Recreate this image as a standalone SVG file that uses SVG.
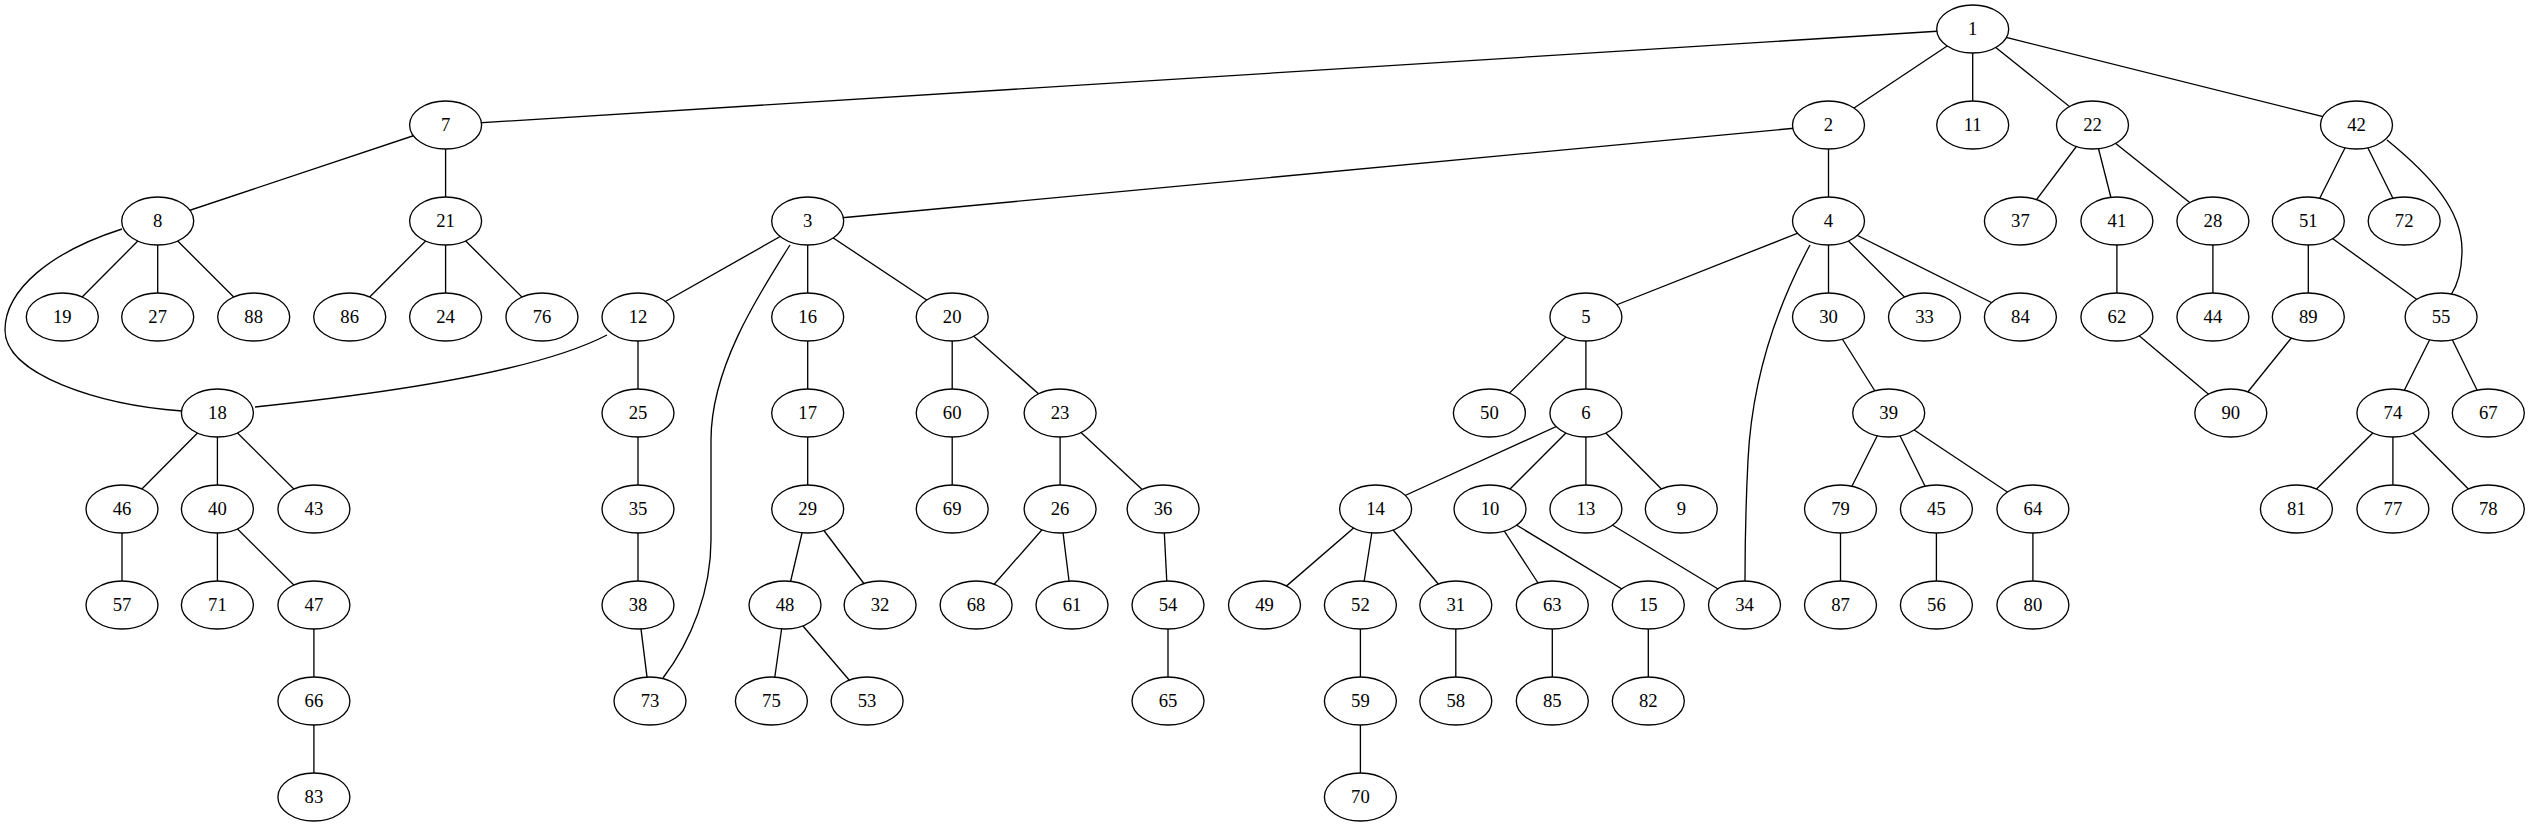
<svg xmlns="http://www.w3.org/2000/svg" width="2530" height="827" viewBox="0 0 2530 827">
<style>
.e line,.e path{stroke:#000;stroke-width:1.33;fill:none}
.n ellipse{fill:#fff;stroke:#000;stroke-width:1.33}
.n text{font-family:"Liberation Serif","Times New Roman",serif;font-size:18.67px;text-anchor:middle;fill:#000}
</style>
<rect width="2530" height="827" fill="#fff"/>
<g id="edges" class="e">
<line x1="1972.7" y1="29" x2="445.6" y2="125"/>
<line x1="1972.7" y1="29" x2="1828.5" y2="125"/>
<line x1="1972.7" y1="29" x2="1972.7" y2="125"/>
<line x1="1972.7" y1="29" x2="2092.5" y2="125"/>
<line x1="1972.7" y1="29" x2="2356.5" y2="125"/>
<line x1="445.6" y1="125" x2="157.7" y2="221"/>
<line x1="445.6" y1="125" x2="445.6" y2="221"/>
<line x1="1828.5" y1="125" x2="807.7" y2="221"/>
<line x1="1828.5" y1="125" x2="1828.5" y2="221"/>
<line x1="2092.5" y1="125" x2="2020.4" y2="221"/>
<line x1="2092.5" y1="125" x2="2116.9" y2="221"/>
<line x1="2092.5" y1="125" x2="2212.9" y2="221"/>
<line x1="2356.5" y1="125" x2="2308.3" y2="221"/>
<line x1="2356.5" y1="125" x2="2404.2" y2="221"/>
<path d="M2387,140 C2430,175 2462,210 2462,250 C2462,270 2458,284 2451,295"/>
<line x1="157.7" y1="221" x2="62.3" y2="317"/>
<line x1="157.7" y1="221" x2="157.7" y2="317"/>
<line x1="157.7" y1="221" x2="253.7" y2="317"/>
<path d="M122,229 C50,252 5,290 5,330 C5,375 100,405 182,411"/>
<line x1="445.6" y1="221" x2="349.7" y2="317"/>
<line x1="445.6" y1="221" x2="445.6" y2="317"/>
<line x1="445.6" y1="221" x2="542" y2="317"/>
<line x1="807.7" y1="221" x2="638" y2="317"/>
<path d="M790,245 C755,300 711,370 711,440 L711,540 C711,590 692,640 663,678"/>
<line x1="807.7" y1="221" x2="807.7" y2="317"/>
<line x1="807.7" y1="221" x2="952.2" y2="317"/>
<line x1="1828.5" y1="221" x2="1585.9" y2="317"/>
<path d="M1810,245 C1775,310 1752,380 1748,460 C1745,520 1745,560 1745,581"/>
<line x1="1828.5" y1="221" x2="1828.5" y2="317"/>
<line x1="1828.5" y1="221" x2="1924.5" y2="317"/>
<line x1="1828.5" y1="221" x2="2020.4" y2="317"/>
<line x1="2116.9" y1="221" x2="2116.9" y2="317"/>
<line x1="2212.9" y1="221" x2="2212.9" y2="317"/>
<line x1="2308.3" y1="221" x2="2308.3" y2="317"/>
<line x1="2308.3" y1="221" x2="2441.1" y2="317"/>
<path d="M607,335 C540,370 400,392 255,407"/>
<line x1="638" y1="317" x2="638" y2="413"/>
<line x1="807.7" y1="317" x2="807.7" y2="413"/>
<line x1="952.2" y1="317" x2="952.2" y2="413"/>
<line x1="952.2" y1="317" x2="1060.1" y2="413"/>
<line x1="1585.9" y1="317" x2="1489.4" y2="413"/>
<line x1="1585.9" y1="317" x2="1585.9" y2="413"/>
<line x1="1828.5" y1="317" x2="1888.7" y2="413"/>
<line x1="2116.9" y1="317" x2="2230.8" y2="413"/>
<line x1="2308.3" y1="317" x2="2230.8" y2="413"/>
<line x1="2441.1" y1="317" x2="2392.9" y2="413"/>
<line x1="2441.1" y1="317" x2="2488.3" y2="413"/>
<line x1="217.4" y1="413" x2="122" y2="509"/>
<line x1="217.4" y1="413" x2="217.4" y2="509"/>
<line x1="217.4" y1="413" x2="313.9" y2="509"/>
<line x1="638" y1="413" x2="638" y2="509"/>
<line x1="807.7" y1="413" x2="807.7" y2="509"/>
<line x1="952.2" y1="413" x2="952.2" y2="509"/>
<line x1="1060.1" y1="413" x2="1060.1" y2="509"/>
<line x1="1060.1" y1="413" x2="1163.1" y2="509"/>
<line x1="1585.9" y1="413" x2="1375.6" y2="509"/>
<line x1="1585.9" y1="413" x2="1490" y2="509"/>
<line x1="1585.9" y1="413" x2="1585.9" y2="509"/>
<line x1="1585.9" y1="413" x2="1681.3" y2="509"/>
<line x1="1888.7" y1="413" x2="1840.5" y2="509"/>
<line x1="1888.7" y1="413" x2="1936.4" y2="509"/>
<line x1="1888.7" y1="413" x2="2032.9" y2="509"/>
<line x1="2392.9" y1="413" x2="2296.4" y2="509"/>
<line x1="2392.9" y1="413" x2="2392.9" y2="509"/>
<line x1="2392.9" y1="413" x2="2488.3" y2="509"/>
<line x1="122" y1="509" x2="122" y2="605"/>
<line x1="217.4" y1="509" x2="217.4" y2="605"/>
<line x1="217.4" y1="509" x2="313.9" y2="605"/>
<line x1="638" y1="509" x2="638" y2="605"/>
<line x1="807.7" y1="509" x2="785" y2="605"/>
<line x1="807.7" y1="509" x2="880.1" y2="605"/>
<line x1="1060.1" y1="509" x2="976.1" y2="605"/>
<line x1="1060.1" y1="509" x2="1072" y2="605"/>
<line x1="1163.1" y1="509" x2="1168" y2="605"/>
<line x1="1375.6" y1="509" x2="1264.5" y2="605"/>
<line x1="1375.6" y1="509" x2="1360.4" y2="605"/>
<line x1="1375.6" y1="509" x2="1455.8" y2="605"/>
<line x1="1490" y1="509" x2="1552.3" y2="605"/>
<line x1="1490" y1="509" x2="1648.3" y2="605"/>
<line x1="1585.9" y1="509" x2="1744.5" y2="605"/>
<line x1="1840.5" y1="509" x2="1840.5" y2="605"/>
<line x1="1936.4" y1="509" x2="1936.4" y2="605"/>
<line x1="2032.9" y1="509" x2="2032.9" y2="605"/>
<line x1="313.9" y1="605" x2="313.9" y2="701"/>
<line x1="638" y1="605" x2="650" y2="701"/>
<line x1="785" y1="605" x2="771.4" y2="701"/>
<line x1="785" y1="605" x2="867.1" y2="701"/>
<line x1="1168" y1="605" x2="1168" y2="701"/>
<line x1="1360.4" y1="605" x2="1360.4" y2="701"/>
<line x1="1455.8" y1="605" x2="1455.8" y2="701"/>
<line x1="1552.3" y1="605" x2="1552.3" y2="701"/>
<line x1="1648.3" y1="605" x2="1648.3" y2="701"/>
<line x1="313.9" y1="701" x2="313.9" y2="797"/>
<line x1="1360.4" y1="701" x2="1360.4" y2="797"/>
</g>
<g id="n1" class="n"><ellipse cx="1972.7" cy="29" rx="36" ry="24"/><text x="1972.7" y="35">1</text></g>
<g id="n7" class="n"><ellipse cx="445.6" cy="125" rx="36" ry="24"/><text x="445.6" y="131">7</text></g>
<g id="n2" class="n"><ellipse cx="1828.5" cy="125" rx="36" ry="24"/><text x="1828.5" y="131">2</text></g>
<g id="n11" class="n"><ellipse cx="1972.7" cy="125" rx="36" ry="24"/><text x="1972.7" y="131">11</text></g>
<g id="n22" class="n"><ellipse cx="2092.5" cy="125" rx="36" ry="24"/><text x="2092.5" y="131">22</text></g>
<g id="n42" class="n"><ellipse cx="2356.5" cy="125" rx="36" ry="24"/><text x="2356.5" y="131">42</text></g>
<g id="n8" class="n"><ellipse cx="157.7" cy="221" rx="36" ry="24"/><text x="157.7" y="227">8</text></g>
<g id="n21" class="n"><ellipse cx="445.6" cy="221" rx="36" ry="24"/><text x="445.6" y="227">21</text></g>
<g id="n3" class="n"><ellipse cx="807.7" cy="221" rx="36" ry="24"/><text x="807.7" y="227">3</text></g>
<g id="n4" class="n"><ellipse cx="1828.5" cy="221" rx="36" ry="24"/><text x="1828.5" y="227">4</text></g>
<g id="n37" class="n"><ellipse cx="2020.4" cy="221" rx="36" ry="24"/><text x="2020.4" y="227">37</text></g>
<g id="n41" class="n"><ellipse cx="2116.9" cy="221" rx="36" ry="24"/><text x="2116.9" y="227">41</text></g>
<g id="n28" class="n"><ellipse cx="2212.9" cy="221" rx="36" ry="24"/><text x="2212.9" y="227">28</text></g>
<g id="n51" class="n"><ellipse cx="2308.3" cy="221" rx="36" ry="24"/><text x="2308.3" y="227">51</text></g>
<g id="n72" class="n"><ellipse cx="2404.2" cy="221" rx="36" ry="24"/><text x="2404.2" y="227">72</text></g>
<g id="n19" class="n"><ellipse cx="62.3" cy="317" rx="36" ry="24"/><text x="62.3" y="323">19</text></g>
<g id="n27" class="n"><ellipse cx="157.7" cy="317" rx="36" ry="24"/><text x="157.7" y="323">27</text></g>
<g id="n88" class="n"><ellipse cx="253.7" cy="317" rx="36" ry="24"/><text x="253.7" y="323">88</text></g>
<g id="n86" class="n"><ellipse cx="349.7" cy="317" rx="36" ry="24"/><text x="349.7" y="323">86</text></g>
<g id="n24" class="n"><ellipse cx="445.6" cy="317" rx="36" ry="24"/><text x="445.6" y="323">24</text></g>
<g id="n76" class="n"><ellipse cx="542" cy="317" rx="36" ry="24"/><text x="542" y="323">76</text></g>
<g id="n12" class="n"><ellipse cx="638" cy="317" rx="36" ry="24"/><text x="638" y="323">12</text></g>
<g id="n16" class="n"><ellipse cx="807.7" cy="317" rx="36" ry="24"/><text x="807.7" y="323">16</text></g>
<g id="n20" class="n"><ellipse cx="952.2" cy="317" rx="36" ry="24"/><text x="952.2" y="323">20</text></g>
<g id="n5" class="n"><ellipse cx="1585.9" cy="317" rx="36" ry="24"/><text x="1585.9" y="323">5</text></g>
<g id="n30" class="n"><ellipse cx="1828.5" cy="317" rx="36" ry="24"/><text x="1828.5" y="323">30</text></g>
<g id="n33" class="n"><ellipse cx="1924.5" cy="317" rx="36" ry="24"/><text x="1924.5" y="323">33</text></g>
<g id="n84" class="n"><ellipse cx="2020.4" cy="317" rx="36" ry="24"/><text x="2020.4" y="323">84</text></g>
<g id="n62" class="n"><ellipse cx="2116.9" cy="317" rx="36" ry="24"/><text x="2116.9" y="323">62</text></g>
<g id="n44" class="n"><ellipse cx="2212.9" cy="317" rx="36" ry="24"/><text x="2212.9" y="323">44</text></g>
<g id="n89" class="n"><ellipse cx="2308.3" cy="317" rx="36" ry="24"/><text x="2308.3" y="323">89</text></g>
<g id="n55" class="n"><ellipse cx="2441.1" cy="317" rx="36" ry="24"/><text x="2441.1" y="323">55</text></g>
<g id="n18" class="n"><ellipse cx="217.4" cy="413" rx="36" ry="24"/><text x="217.4" y="419">18</text></g>
<g id="n25" class="n"><ellipse cx="638" cy="413" rx="36" ry="24"/><text x="638" y="419">25</text></g>
<g id="n17" class="n"><ellipse cx="807.7" cy="413" rx="36" ry="24"/><text x="807.7" y="419">17</text></g>
<g id="n60" class="n"><ellipse cx="952.2" cy="413" rx="36" ry="24"/><text x="952.2" y="419">60</text></g>
<g id="n23" class="n"><ellipse cx="1060.1" cy="413" rx="36" ry="24"/><text x="1060.1" y="419">23</text></g>
<g id="n50" class="n"><ellipse cx="1489.4" cy="413" rx="36" ry="24"/><text x="1489.4" y="419">50</text></g>
<g id="n6" class="n"><ellipse cx="1585.9" cy="413" rx="36" ry="24"/><text x="1585.9" y="419">6</text></g>
<g id="n39" class="n"><ellipse cx="1888.7" cy="413" rx="36" ry="24"/><text x="1888.7" y="419">39</text></g>
<g id="n90" class="n"><ellipse cx="2230.8" cy="413" rx="36" ry="24"/><text x="2230.8" y="419">90</text></g>
<g id="n74" class="n"><ellipse cx="2392.9" cy="413" rx="36" ry="24"/><text x="2392.9" y="419">74</text></g>
<g id="n67" class="n"><ellipse cx="2488.3" cy="413" rx="36" ry="24"/><text x="2488.3" y="419">67</text></g>
<g id="n46" class="n"><ellipse cx="122" cy="509" rx="36" ry="24"/><text x="122" y="515">46</text></g>
<g id="n40" class="n"><ellipse cx="217.4" cy="509" rx="36" ry="24"/><text x="217.4" y="515">40</text></g>
<g id="n43" class="n"><ellipse cx="313.9" cy="509" rx="36" ry="24"/><text x="313.9" y="515">43</text></g>
<g id="n35" class="n"><ellipse cx="638" cy="509" rx="36" ry="24"/><text x="638" y="515">35</text></g>
<g id="n29" class="n"><ellipse cx="807.7" cy="509" rx="36" ry="24"/><text x="807.7" y="515">29</text></g>
<g id="n69" class="n"><ellipse cx="952.2" cy="509" rx="36" ry="24"/><text x="952.2" y="515">69</text></g>
<g id="n26" class="n"><ellipse cx="1060.1" cy="509" rx="36" ry="24"/><text x="1060.1" y="515">26</text></g>
<g id="n36" class="n"><ellipse cx="1163.1" cy="509" rx="36" ry="24"/><text x="1163.1" y="515">36</text></g>
<g id="n14" class="n"><ellipse cx="1375.6" cy="509" rx="36" ry="24"/><text x="1375.6" y="515">14</text></g>
<g id="n10" class="n"><ellipse cx="1490" cy="509" rx="36" ry="24"/><text x="1490" y="515">10</text></g>
<g id="n13" class="n"><ellipse cx="1585.9" cy="509" rx="36" ry="24"/><text x="1585.9" y="515">13</text></g>
<g id="n9" class="n"><ellipse cx="1681.3" cy="509" rx="36" ry="24"/><text x="1681.3" y="515">9</text></g>
<g id="n79" class="n"><ellipse cx="1840.5" cy="509" rx="36" ry="24"/><text x="1840.5" y="515">79</text></g>
<g id="n45" class="n"><ellipse cx="1936.4" cy="509" rx="36" ry="24"/><text x="1936.4" y="515">45</text></g>
<g id="n64" class="n"><ellipse cx="2032.9" cy="509" rx="36" ry="24"/><text x="2032.9" y="515">64</text></g>
<g id="n81" class="n"><ellipse cx="2296.4" cy="509" rx="36" ry="24"/><text x="2296.4" y="515">81</text></g>
<g id="n77" class="n"><ellipse cx="2392.9" cy="509" rx="36" ry="24"/><text x="2392.9" y="515">77</text></g>
<g id="n78" class="n"><ellipse cx="2488.3" cy="509" rx="36" ry="24"/><text x="2488.3" y="515">78</text></g>
<g id="n57" class="n"><ellipse cx="122" cy="605" rx="36" ry="24"/><text x="122" y="611">57</text></g>
<g id="n71" class="n"><ellipse cx="217.4" cy="605" rx="36" ry="24"/><text x="217.4" y="611">71</text></g>
<g id="n47" class="n"><ellipse cx="313.9" cy="605" rx="36" ry="24"/><text x="313.9" y="611">47</text></g>
<g id="n38" class="n"><ellipse cx="638" cy="605" rx="36" ry="24"/><text x="638" y="611">38</text></g>
<g id="n48" class="n"><ellipse cx="785" cy="605" rx="36" ry="24"/><text x="785" y="611">48</text></g>
<g id="n32" class="n"><ellipse cx="880.1" cy="605" rx="36" ry="24"/><text x="880.1" y="611">32</text></g>
<g id="n68" class="n"><ellipse cx="976.1" cy="605" rx="36" ry="24"/><text x="976.1" y="611">68</text></g>
<g id="n61" class="n"><ellipse cx="1072" cy="605" rx="36" ry="24"/><text x="1072" y="611">61</text></g>
<g id="n54" class="n"><ellipse cx="1168" cy="605" rx="36" ry="24"/><text x="1168" y="611">54</text></g>
<g id="n49" class="n"><ellipse cx="1264.5" cy="605" rx="36" ry="24"/><text x="1264.5" y="611">49</text></g>
<g id="n52" class="n"><ellipse cx="1360.4" cy="605" rx="36" ry="24"/><text x="1360.4" y="611">52</text></g>
<g id="n31" class="n"><ellipse cx="1455.8" cy="605" rx="36" ry="24"/><text x="1455.8" y="611">31</text></g>
<g id="n63" class="n"><ellipse cx="1552.3" cy="605" rx="36" ry="24"/><text x="1552.3" y="611">63</text></g>
<g id="n15" class="n"><ellipse cx="1648.3" cy="605" rx="36" ry="24"/><text x="1648.3" y="611">15</text></g>
<g id="n34" class="n"><ellipse cx="1744.5" cy="605" rx="36" ry="24"/><text x="1744.5" y="611">34</text></g>
<g id="n87" class="n"><ellipse cx="1840.5" cy="605" rx="36" ry="24"/><text x="1840.5" y="611">87</text></g>
<g id="n56" class="n"><ellipse cx="1936.4" cy="605" rx="36" ry="24"/><text x="1936.4" y="611">56</text></g>
<g id="n80" class="n"><ellipse cx="2032.9" cy="605" rx="36" ry="24"/><text x="2032.9" y="611">80</text></g>
<g id="n66" class="n"><ellipse cx="313.9" cy="701" rx="36" ry="24"/><text x="313.9" y="707">66</text></g>
<g id="n73" class="n"><ellipse cx="650" cy="701" rx="36" ry="24"/><text x="650" y="707">73</text></g>
<g id="n75" class="n"><ellipse cx="771.4" cy="701" rx="36" ry="24"/><text x="771.4" y="707">75</text></g>
<g id="n53" class="n"><ellipse cx="867.1" cy="701" rx="36" ry="24"/><text x="867.1" y="707">53</text></g>
<g id="n65" class="n"><ellipse cx="1168" cy="701" rx="36" ry="24"/><text x="1168" y="707">65</text></g>
<g id="n59" class="n"><ellipse cx="1360.4" cy="701" rx="36" ry="24"/><text x="1360.4" y="707">59</text></g>
<g id="n58" class="n"><ellipse cx="1455.8" cy="701" rx="36" ry="24"/><text x="1455.8" y="707">58</text></g>
<g id="n85" class="n"><ellipse cx="1552.3" cy="701" rx="36" ry="24"/><text x="1552.3" y="707">85</text></g>
<g id="n82" class="n"><ellipse cx="1648.3" cy="701" rx="36" ry="24"/><text x="1648.3" y="707">82</text></g>
<g id="n83" class="n"><ellipse cx="313.9" cy="797" rx="36" ry="24"/><text x="313.9" y="803">83</text></g>
<g id="n70" class="n"><ellipse cx="1360.4" cy="797" rx="36" ry="24"/><text x="1360.4" y="803">70</text></g>
</svg>
